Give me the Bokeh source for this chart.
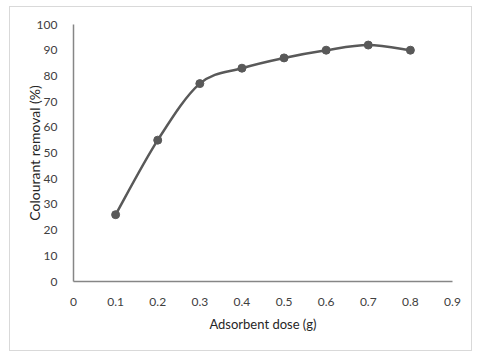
from bokeh.plotting import figure
from bokeh.embed import file_html
from bokeh.resources import INLINE
from bokeh.models import Range1d, FixedTicker

# Data
dose = [0.1, 0.2, 0.3, 0.4, 0.5, 0.6, 0.7, 0.8]
removal = [26, 55, 77, 83, 87, 90, 92, 90]
x_ticks = [0, 0.1, 0.2, 0.3, 0.4, 0.5, 0.6, 0.7, 0.8, 0.9]
x_tick_labels = ["0", "0.1", "0.2", "0.3", "0.4", "0.5", "0.6", "0.7", "0.8", "0.9"]
y_ticks = [0, 10, 20, 30, 40, 50, 60, 70, 80, 90, 100]

FONT = "Lato"
TXT = "#404040"
SERIES = "#595959"
AXIS = "#868686"

p = figure(width=463, height=345, output_backend="svg", toolbar_location=None,
           x_range=Range1d(0, 0.9), y_range=Range1d(0, 100),
           min_border_left=63, min_border_right=21, min_border_top=17, min_border_bottom=71)
p.styles = {"margin-left": "9px", "margin-top": "6px", "border": "1px solid #d9d9d9"}
p.outline_line_color = None
p.xgrid.visible = False
p.ygrid.visible = False

# smoothed line (Excel-style cubic Bezier through the points)
n = len(dose)
x0s, y0s, x1s, y1s, cx0, cy0, cx1, cy1 = [], [], [], [], [], [], [], []
for i in range(n - 1):
    xm = dose[i - 1] if i > 0 else dose[i]
    ym = removal[i - 1] if i > 0 else removal[i]
    xp = dose[i + 2] if i + 2 < n else dose[i + 1]
    yp = removal[i + 2] if i + 2 < n else removal[i + 1]
    x0s.append(dose[i]); y0s.append(removal[i])
    x1s.append(dose[i + 1]); y1s.append(removal[i + 1])
    cx0.append(dose[i] + (dose[i + 1] - xm) / 6)
    cy0.append(removal[i] + (removal[i + 1] - ym) / 6)
    cx1.append(dose[i + 1] - (xp - dose[i]) / 6)
    cy1.append(removal[i + 1] - (yp - removal[i]) / 6)

p.bezier(x0=x0s, y0=y0s, x1=x1s, y1=y1s, cx0=cx0, cy0=cy0, cx1=cx1, cy1=cy1,
         line_color=SERIES, line_width=2.5)
p.scatter(dose, removal, size=8, fill_color=SERIES, line_color=SERIES)

for ax in (p.xaxis, p.yaxis):
    ax.axis_line_color = AXIS
    ax.axis_line_width = 1.5
    ax.major_tick_line_color = None
    ax.minor_tick_line_color = None
    ax.major_label_text_font = FONT
    ax.major_label_text_font_size = "12px"
    ax.major_label_text_color = TXT
    ax.axis_label_text_font = FONT
    ax.axis_label_text_color = "#262626"
    ax.axis_label_text_font_style = "normal"

p.xaxis.ticker = FixedTicker(ticks=x_ticks)
p.xaxis.major_label_overrides = {t: l for t, l in zip(x_ticks, x_tick_labels)}
p.xaxis.major_label_standoff = 10
p.xaxis.axis_label = "Adsorbent dose (g)"
p.xaxis.axis_label_text_font_size = "13px"
p.xaxis.axis_label_standoff = 7

p.yaxis.ticker = FixedTicker(ticks=y_ticks)
p.yaxis.major_label_standoff = 10
p.yaxis.axis_label = "Colourant removal (%)"
p.yaxis.axis_label_text_font_size = "14px"
p.yaxis.axis_label_standoff = -9

open("out.html", "w").write(file_html(p, INLINE))
